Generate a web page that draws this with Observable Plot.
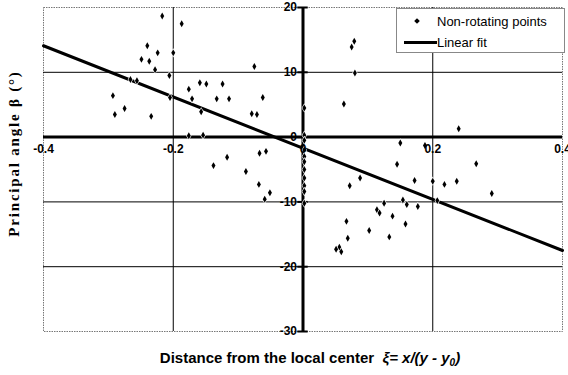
<!DOCTYPE html>
<html>
<head>
<meta charset="utf-8">
<script src="https://cdn.jsdelivr.net/npm/d3@7"></script>
<script src="https://cdn.jsdelivr.net/npm/@observablehq/plot@0.6"></script>
<style>
  html, body { margin: 0; padding: 0; background: #fff; }
  #wrap { position: relative; width: 568px; height: 375px; font-family: "Liberation Sans", Arial, sans-serif; }
  #legend { position: absolute; left: 396px; top: 8px; width: 167px; height: 43px; border: 1px solid #888; background: #fff; font-size: 13px; color: #000; }
  .row { position: absolute; left: 0; height: 20px; display: flex; align-items: center; }
  .sym { width: 40px; display: flex; justify-content: center; align-items: center; }
</style>
</head>
<body>
<div id="wrap">
  <div id="chart"></div>
  <div id="legend">
    <div class="row" style="top:2px"><span class="sym"><span style="display:inline-block;width:4px;height:4px;background:#000;transform:rotate(45deg)"></span></span><span>Non-rotating points</span></div>
    <div class="row" style="top:23px"><span class="sym" style="justify-content:flex-end;width:40px"><span style="display:inline-block;width:33px;height:3px;background:#000"></span></span><span>Linear fit</span></div>
  </div>
</div>
<script>
// Scatter data: distance xi and principal angle beta
const xs = [
  -0.217, -0.187, -0.240, -0.224, -0.200, -0.249, -0.237, -0.228, -0.206, -0.075,
  -0.266, -0.256, -0.159, -0.149, -0.124, -0.176, -0.293, -0.205, -0.171, -0.133,
  -0.114, -0.062, -0.275, -0.157, -0.290, -0.234, -0.079, -0.071, -0.176, -0.154,
  -0.067, -0.057, -0.117, -0.138, -0.088, -0.068, -0.051, -0.059,
  0.002, 0.002, 0.002, 0.002, 0.002, 0.002, 0.002, 0.002, 0.002, 0.002, 0.002,
  0.079, 0.075, 0.080, 0.063, 0.240, 0.150, 0.188, 0.145, 0.267, 0.088,
  0.072, 0.172, 0.200, 0.218, 0.237, 0.291, 0.154, 0.125, 0.160, 0.177,
  0.207, 0.114, 0.118, 0.138, 0.067, 0.158, 0.102, 0.069, 0.133, 0.056,
  0.051, 0.059
];
const ys = [
  18.7, 17.5, 14.1, 13.0, 13.0, 12.0, 11.7, 10.4, 9.5, 10.9,
  8.9, 8.7, 8.4, 8.2, 8.2, 7.4, 6.4, 6.1, 5.9, 5.9,
  5.9, 6.1, 4.4, 3.9, 3.5, 3.2, 3.6, 3.5, 0.2, 0.3,
  -2.5, -2.2, -3.1, -4.4, -5.3, -7.3, -8.6, -9.6,
  4.5, 0.3, -0.5, -2.0, -3.0, -3.8, -5.0, -6.3, -7.5, -8.4, -10.2,
  14.8, 13.9, 9.9, 5.1, 1.3, -0.9, -1.3, -4.2, -4.1, -6.3,
  -7.5, -6.7, -6.8, -7.3, -6.8, -8.7, -9.7, -10.2, -10.4, -10.7,
  -9.8, -11.2, -11.7, -12.2, -13.0, -13.4, -14.4, -15.6, -15.4, -17.0,
  -17.3, -17.7
];
// Linear fit endpoints
const fitX = [-0.4, 0.4];
const fitY = [14.1, -17.5];
// Ticks and grid
const xTicks = [-0.4, -0.2, 0, 0.2, 0.4];
const xTickLabels = ["-0.4", "-0.2", "0", "0.2", "0.4"];
const yTicks = [20, 10, 0, -10, -20, -30];
const yTickLabels = ["20", "10", "0", "-10", "-20", "-30"];
const xGrid = [-0.2, 0.2];
const yGrid = [10, -10, -20];

const points = xs.map((x, i) => ({x, y: ys[i]}));
const fit = fitX.map((x, i) => ({x, y: fitY[i]}));
const xt = xTicks.map((v, i) => ({v, label: xTickLabels[i]}));
const yt = yTicks.map((v, i) => ({v, label: yTickLabels[i]}));

const chart = Plot.plot({
  width: 568,
  height: 375,
  marginLeft: 43,
  marginRight: 6,
  marginTop: 7,
  marginBottom: 44,
  style: {fontFamily: "'Liberation Sans', Arial, sans-serif", background: "#fff"},
  x: {domain: [-0.4, 0.4], axis: null},
  y: {domain: [-30, 20], axis: null},
  marks: [
    Plot.frame({stroke: "#777", strokeDasharray: "1.5,1", strokeWidth: 1}),
    Plot.ruleY(yGrid, {stroke: "#000", strokeWidth: 1}),
    Plot.ruleX(xGrid, {stroke: "#000", strokeWidth: 1}),
    Plot.ruleY([0], {stroke: "#000", strokeWidth: 3}),
    Plot.ruleX([0], {stroke: "#000", strokeWidth: 3}),
    Plot.ruleY(yt, {y: "v", x1: -0.008, x2: 0.008, stroke: "#000", strokeWidth: 2}),
    Plot.line(fit, {x: "x", y: "y", stroke: "#000", strokeWidth: 3}),
    Plot.dot(points, {x: "x", y: "y", symbol: "diamond", r: 2.1, fill: "#000", stroke: "#fff", strokeWidth: 1.2, paintOrder: "stroke"}),
    Plot.text(xt, {x: "v", y: () => 0, text: "label", dy: 12, fontSize: 12, fontWeight: "bold", fill: "#000"}),
    Plot.text(yt, {x: () => 0, y: "v", text: "label", dx: -6, textAnchor: "end", fontSize: 12, fontWeight: "bold", fill: "#000"}),
    Plot.text(["Distance from the local center"], {frameAnchor: "bottom", text: d => d, dy: 31, dx: 7, fontSize: 15, fontWeight: "bold", fill: "#000", className: "xtitle"}),
    Plot.text(["Principal angle β (°)"], {frameAnchor: "left", textAnchor: "middle", text: d => d, rotate: -90, dx: -29, dy: -16, fontSize: 15, fontWeight: "bold", fontFamily: "'Liberation Serif', 'Times New Roman', serif", fill: "#000", className: "ytitle"})
  ]
});
document.getElementById("chart").appendChild(chart);

d3.select(chart).selectAll(".ytitle text").attr("letter-spacing", "1.8px");

// Rich x title: normal bold part plus italic formula with subscript
const t = d3.select(chart).select(".xtitle text");
if (!t.empty()) {
  t.text(null);
  t.append("tspan").text("Distance from the local center  ");
  t.append("tspan").attr("font-style", "italic").text("ξ= x/(y - y");
  t.append("tspan").attr("font-style", "italic").attr("font-size", 10).attr("dy", 3).text("0");
  t.append("tspan").attr("font-style", "italic").attr("dy", -3).text(")");
}
</script>
</body>
</html>
